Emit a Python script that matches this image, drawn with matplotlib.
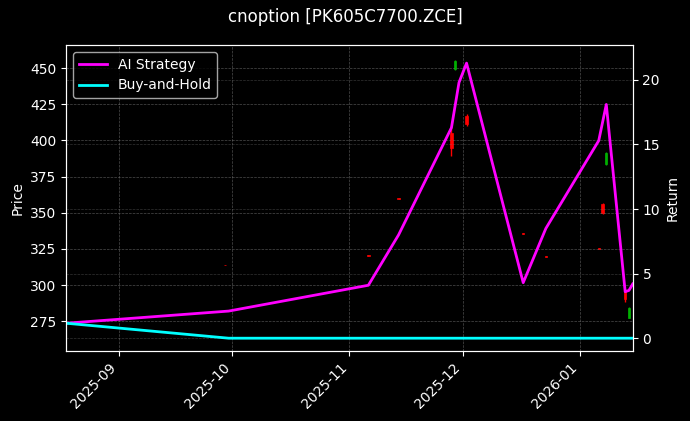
import matplotlib
matplotlib.use("Agg")
import matplotlib.pyplot as plt
import matplotlib.dates as mdates
import pandas as pd

plt.style.use("dark_background")

# candles (date, open, high, low, close)
candle_dates = ["2025-09-29", "2025-11-06", "2025-11-14", "2025-11-28", "2025-11-29", "2025-12-02",
                "2025-12-17", "2025-12-23", "2026-01-06", "2026-01-07", "2026-01-08", "2026-01-13", "2026-01-14"]
opens = [314, 320.5, 360, 405, 449, 417, 335.7, 320, 325.5, 356, 384, 296, 277]
closes = [313.5, 320, 359.5, 395, 455, 411, 335.2, 319.5, 325, 350, 391, 290, 284]
highs = [314, 320.5, 360, 410, 455.5, 418, 335.7, 320, 325.5, 357, 392, 297, 285]
lows = [313.5, 320, 359.5, 389, 448.6, 410, 335.2, 319.5, 325, 349, 383, 288, 277]

# returns
ret_dates = ["2025-08-18", "2025-09-30", "2025-11-06", "2025-11-14", "2025-11-28", "2025-11-30",
             "2025-12-02", "2025-12-17", "2025-12-23", "2026-01-06", "2026-01-08", "2026-01-13",
             "2026-01-14", "2026-01-15"]
ai_ret = [1.16, 2.1, 4.1, 8.0, 16.3, 19.8, 21.3, 4.3, 8.5, 15.3, 18.1, 3.6, 3.7, 4.2]
bh_ret = [1.16, 0, 0, 0, 0, 0, 0, 0, 0, 0, 0, 0, 0, 0]

cd = pd.to_datetime(candle_dates)
rd = pd.to_datetime(ret_dates)

fig, ax = plt.subplots(figsize=(6.9, 4.21), dpi=100)
fig.patch.set_facecolor("black")
ax.set_facecolor("black")
for d, o, h, l, c in zip(cd, opens, highs, lows, closes):
    col = "#00b000" if c >= o else "red"
    ax.vlines(d, l, h, color=col, linewidth=1)
    ax.bar(d, max(abs(c - o), 0.5), bottom=min(o, c), width=0.6, color=col, edgecolor=col, linewidth=0.5)
ax.set_ylim(254.3, 465.9)
ax.set_ylabel("Price")
ax.grid(True, color="gray", linestyle="--", linewidth=0.5, alpha=0.6)

ax2 = ax.twinx()
ax2.plot(rd, ai_ret, color="magenta", linewidth=2, label="AI Strategy")
ax2.plot(rd, bh_ret, color="cyan", linewidth=2, label="Buy-and-Hold")
ax2.set_ylim(-1.0, 22.7)
ax2.set_ylabel("Return")
ax2.grid(True, color="gray", linestyle="--", linewidth=0.5, alpha=0.4)
ax2.legend(loc="upper left")
ax.set_xlim(pd.Timestamp("2025-08-18"), pd.Timestamp("2026-01-15"))
ax.xaxis.set_major_locator(mdates.MonthLocator())
ax.xaxis.set_major_formatter(mdates.DateFormatter("%Y-%m"))
plt.setp(ax.get_xticklabels(), rotation=45, ha="right")
fig.suptitle("cnoption [PK605C7700.ZCE]")
fig.subplots_adjust(left=0.096, right=0.917, top=0.893, bottom=0.166)
fig.savefig("out.png", dpi=100)
